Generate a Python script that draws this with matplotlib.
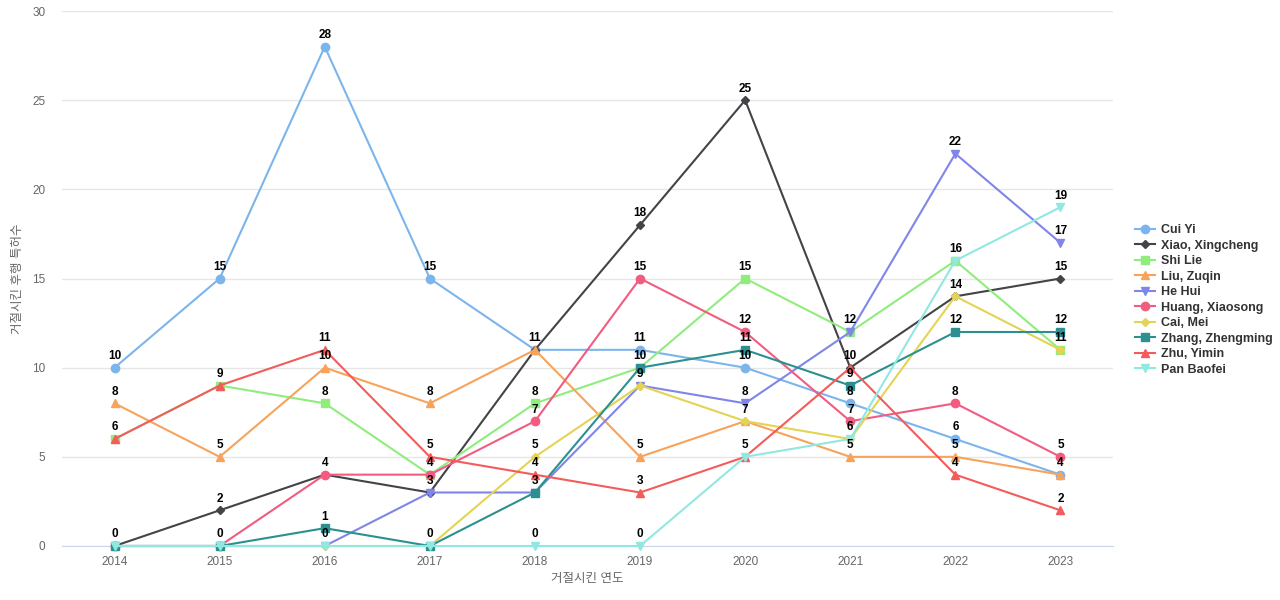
import numpy as np
import matplotlib.pyplot as plt

plt.rcParams['font.family'] = ['Liberation Sans', 'Noto Sans CJK KR', 'DejaVu Sans']
plt.rcParams['axes.unicode_minus'] = False

years = [2014, 2015, 2016, 2017, 2018, 2019, 2020, 2021, 2022, 2023]

names = ['Cui Yi', 'Xiao, Xingcheng', 'Shi Lie', 'Liu, Zuqin', 'He Hui',
         'Huang, Xiaosong', 'Cai, Mei', 'Zhang, Zhengming', 'Zhu, Yimin', 'Pan Baofei']

cui_yi = [10, 15, 28, 15, 11, 11, 10, 8, 6, 4]
xiao_xingcheng = [0, 2, 4, 3, 11, 18, 25, 10, 14, 15]
shi_lie = [6, 9, 8, 4, 8, 10, 15, 12, 16, 11]
liu_zuqin = [8, 5, 10, 8, 11, 5, 7, 5, 5, 4]
he_hui = [0, 0, 0, 3, 3, 9, 8, 12, 22, 17]
huang_xiaosong = [0, 0, 4, 4, 7, 15, 12, 7, 8, 5]
cai_mei = [0, 0, 0, 0, 5, 9, 7, 6, 14, 11]
zhang_zhengming = [0, 0, 1, 0, 3, 10, 11, 9, 12, 12]
zhu_yimin = [6, 9, 11, 5, 4, 3, 5, 10, 4, 2]
pan_baofei = [0, 0, 0, 0, 0, 0, 5, 6, 16, 19]

series = [cui_yi, xiao_xingcheng, shi_lie, liu_zuqin, he_hui,
          huang_xiaosong, cai_mei, zhang_zhengming, zhu_yimin, pan_baofei]

colors = ['#7cb5ec', '#434348', '#90ed7d', '#f7a35c', '#8085e9',
          '#f15c80', '#e4d354', '#2b908f', '#f45b5b', '#91e8e1']
markers = ['o', 'D', 's', '^', 'v']

fig = plt.figure(figsize=(12.8, 6), dpi=100)
ax = fig.add_axes([62 / 1280, 1 - 546 / 600, (1113 - 62) / 1280, (546 - 11) / 600])

x = np.arange(len(years))
for i, (name, vals) in enumerate(zip(names, series)):
    m = markers[i % 5]
    ms = 4 if m == 'D' else 6
    ax.plot(x, vals, color=colors[i], lw=1.5, marker=m, ms=ms, label=name,
            zorder=3 + i, clip_on=False)

# one label per distinct value at each year
for j in range(len(years)):
    seen = set()
    for vals in series:
        v = vals[j]
        if v in seen:
            continue
        seen.add(v)
        ax.annotate(str(v), (x[j], v), xytext=(0, 4), textcoords='offset points',
                    ha='center', va='bottom', fontsize=8.5, fontweight='bold',
                    color='#000000', zorder=20)

ax.set_xlim(-0.5, 9.5)
ax.set_ylim(0, 30)
ax.set_yticks(range(0, 31, 5))
ax.set_xticks(x)
ax.set_xticklabels([str(y) for y in years])
ax.grid(axis='y', color='#e6e6e6', lw=1)
ax.set_axisbelow(True)
for s in ['top', 'right', 'left']:
    ax.spines[s].set_visible(False)
ax.spines['bottom'].set_color('#ccd6eb')
ax.tick_params(axis='both', length=0, colors='#666666', labelsize=8.5)
ax.tick_params(axis='y', pad=12)
ax.tick_params(axis='x', pad=7)

ax.set_xlabel('거절시킨 연도', fontsize=9, color='#666666', labelpad=4)
ax.set_ylabel('거절시킨 후행 특허수', fontsize=9, color='#666666', labelpad=6)

leg = ax.legend(loc='center left', bbox_to_anchor=(1.016, 0.46), frameon=False,
                prop={'weight': 'bold', 'size': 9}, labelspacing=0.28,
                handlelength=1.6, handletextpad=0.5, borderaxespad=0)
for t in leg.get_texts():
    t.set_color('#333333')

fig.savefig('out.png', dpi=100)
